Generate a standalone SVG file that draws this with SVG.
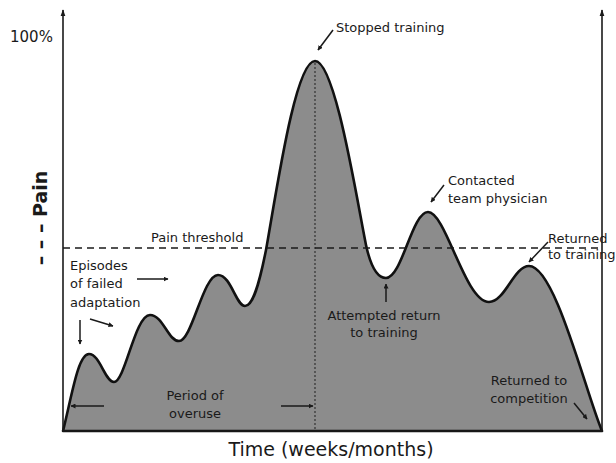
<svg xmlns="http://www.w3.org/2000/svg" width="616" height="463" viewBox="0 0 616 463">
<style>
text{font-family:"DejaVu Sans","Liberation Sans",sans-serif;fill:#1a1a1a}
.lbl{font-size:13px}
.ax{stroke:#1a1a1a;stroke-width:1.6;fill:none}
.arr{stroke:#1a1a1a;stroke-width:1.5;fill:none;marker-end:url(#ah)}
</style>
<defs>
<marker id="ah" viewBox="0 0 10 10" refX="9" refY="5" markerWidth="5" markerHeight="5" orient="auto" markerUnits="userSpaceOnUse">
<path d="M0,0 L10,5 L0,10 z" fill="#1a1a1a"/>
</marker>
<marker id="ax" viewBox="0 0 10 10" refX="9" refY="5" markerWidth="7" markerHeight="7" orient="auto" markerUnits="userSpaceOnUse">
<path d="M0,1.5 L10,5 L0,8.5 z" fill="#1a1a1a"/>
</marker>
</defs>
<rect width="616" height="463" fill="#ffffff"/>
<g id="curve">
<path d="M63,431 C72,395 78,354 89,354 C100,354 105,382 114,382 C125,382 135,315 150,315 C163,315 168,341 179,341 C192,341 203,275 218,275 C231,275 236,306 245,306 C253,306 259,285 266,250 C276,195 295,61 315,61 C335,61 356,195 366,245 C371,268 378,278 386,278 C402,278 412,212 428,212 C446,212 465,302 489,302 C505,302 514,266 529,266 C555,266 585,390 602,431 L63,431 Z" fill="#8c8c8c" stroke="#111" stroke-width="2.6" stroke-linejoin="round"/>
<line x1="315" y1="63" x2="315" y2="430" stroke="#333" stroke-width="1.2" stroke-dasharray="2,2"/>
</g>
<g id="axes">
<line class="ax" x1="63" y1="431" x2="63" y2="10" marker-end="url(#ax)"/>
<line class="ax" x1="602" y1="431" x2="602" y2="10" marker-end="url(#ax)"/>
<line class="ax" x1="62" y1="431" x2="603" y2="431"/>
</g>
<g id="threshold">
<line x1="63" y1="248" x2="602" y2="248" stroke="#1a1a1a" stroke-width="1.5" stroke-dasharray="7,5"/>
<text class="lbl" x="151" y="242">Pain threshold</text>
</g>
<g id="ylabel">
<text x="10" y="42" font-size="15">100%</text>
<text transform="translate(47,218) rotate(-90)" font-size="19" font-weight="600" text-anchor="middle">– – –  Pain</text>
</g>
<g id="xlabel">
<text x="331" y="456" font-size="19" text-anchor="middle">Time (weeks/months)</text>
</g>
<g id="stopped">
<text class="lbl" x="336" y="32">Stopped training</text>
</g>
<g id="contacted">
<text class="lbl" x="448" y="185">Contacted</text>
<text class="lbl" x="448" y="203">team physician</text>
</g>
<g id="returned-training">
<text class="lbl" x="548" y="243">Returned</text>
<text class="lbl" x="548" y="259">to training</text>
</g>
<g id="attempted">
<text class="lbl" x="384" y="320" text-anchor="middle">Attempted return</text>
<text class="lbl" x="384" y="337" text-anchor="middle">to training</text>
</g>
<g id="returned-competition">
<text class="lbl" x="529" y="385" text-anchor="middle">Returned to</text>
<text class="lbl" x="529" y="403" text-anchor="middle">competition</text>
</g>
<g id="episodes">
<text class="lbl" x="70" y="270">Episodes</text>
<text class="lbl" x="70" y="288">of failed</text>
<text class="lbl" x="70" y="307">adaptation</text>
</g>
<g id="period">
<text class="lbl" x="195" y="400" text-anchor="middle">Period of</text>
<text class="lbl" x="195" y="418" text-anchor="middle">overuse</text>
</g>
<g id="connectors">
<line class="arr" x1="333" y1="30" x2="318" y2="50"/>
<line class="arr" x1="444" y1="185" x2="431" y2="202"/>
<line class="arr" x1="548" y1="242" x2="529" y2="262"/>
<line class="arr" x1="386" y1="302" x2="386" y2="284"/>
<line class="arr" x1="574" y1="403" x2="587" y2="419"/>
<line class="arr" x1="137" y1="279" x2="168" y2="279"/>
<line class="arr" x1="80" y1="320" x2="80" y2="344"/>
<line class="arr" x1="90" y1="319" x2="113" y2="326"/>
<line class="arr" x1="104" y1="406" x2="71" y2="406"/>
<line class="arr" x1="281" y1="406" x2="313" y2="406"/>
</g>
</svg>
